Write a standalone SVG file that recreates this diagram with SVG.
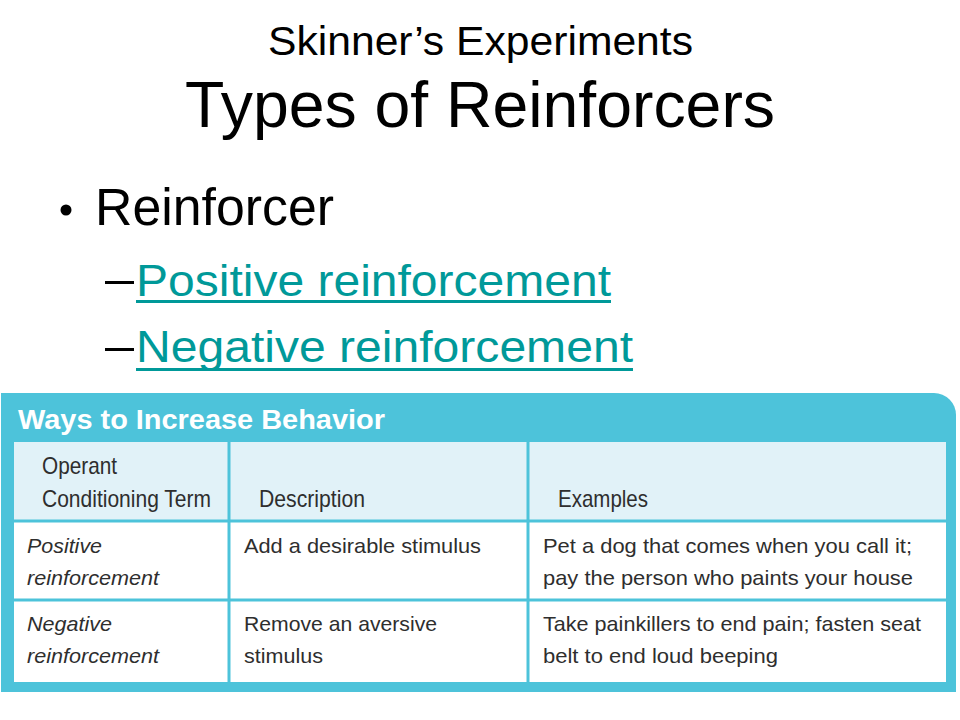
<svg xmlns="http://www.w3.org/2000/svg" width="960" height="720" viewBox="0 0 960 720">
<style>
.t{font-family:"Liberation Sans",Arial,sans-serif;fill:#000}
.lnk{font-family:"Liberation Sans",Arial,sans-serif;fill:#009999;font-size:45px}
.cell{font-family:"Liberation Sans",Arial,sans-serif;fill:#2e2e2e;font-size:21px}
.it{font-style:italic}
.hd{font-family:"Liberation Sans",Arial,sans-serif;fill:#2e2e2e;font-size:24px}
.grid{stroke:#4DC3DA;stroke-width:3;fill:none}
</style>
<rect width="960" height="720" fill="#ffffff"/>
<g id="title">
<text class="t" x="268" y="55" font-size="40" textLength="425" lengthAdjust="spacingAndGlyphs">Skinner’s Experiments</text>
<text class="t" x="185" y="127" font-size="65" textLength="590" lengthAdjust="spacingAndGlyphs">Types of Reinforcers</text>
</g>
<g id="bullets">
<circle cx="66" cy="210" r="5.5" fill="#000"/>
<text class="t" x="95" y="225" font-size="51" textLength="239" lengthAdjust="spacingAndGlyphs">Reinforcer</text>
<rect x="105" y="281" width="29" height="3" fill="#000"/>
<text class="lnk" x="136" y="296" textLength="475" lengthAdjust="spacingAndGlyphs">Positive reinforcement</text>
<rect x="136" y="300" width="475" height="3" fill="#009999"/>
<rect x="105" y="348" width="29" height="3" fill="#000"/>
<text class="lnk" x="136" y="362" textLength="497" lengthAdjust="spacingAndGlyphs">Negative reinforcement</text>
<rect x="136" y="368" width="497" height="3" fill="#009999"/>
</g>
<g id="table">
<path d="M1 393 H934 A22 22 0 0 1 956 415 V692 H1 Z" fill="#4DC3DA"/>
<text x="18" y="429" font-family="Liberation Sans,Arial,sans-serif" font-weight="bold" font-size="27" fill="#ffffff" textLength="367" lengthAdjust="spacingAndGlyphs">Ways to Increase Behavior</text>
<rect x="14" y="442" width="932" height="240" fill="#ffffff"/>
<rect x="14" y="442" width="932" height="79" fill="#E1F2F8"/>
<g id="connectors">
<line class="grid" x1="229" y1="442" x2="229" y2="682"/>
<line class="grid" x1="528" y1="442" x2="528" y2="682"/>
<line class="grid" x1="14" y1="521" x2="946" y2="521"/>
<line class="grid" x1="14" y1="600" x2="946" y2="600"/>
</g>
<g id="header">
<text class="hd" x="42" y="474" textLength="75" lengthAdjust="spacingAndGlyphs">Operant</text>
<text class="hd" x="42" y="507" textLength="169" lengthAdjust="spacingAndGlyphs">Conditioning Term</text>
<text class="hd" x="259" y="507" textLength="106" lengthAdjust="spacingAndGlyphs">Description</text>
<text class="hd" x="558" y="507" textLength="90" lengthAdjust="spacingAndGlyphs">Examples</text>
</g>
<g id="row1">
<text class="cell it" x="27" y="553" textLength="75" lengthAdjust="spacingAndGlyphs">Positive</text>
<text class="cell it" x="27" y="585" textLength="132" lengthAdjust="spacingAndGlyphs">reinforcement</text>
<text class="cell" x="244" y="553" textLength="237" lengthAdjust="spacingAndGlyphs">Add a desirable stimulus</text>
<text class="cell" x="543" y="553" textLength="369" lengthAdjust="spacingAndGlyphs">Pet a dog that comes when you call it;</text>
<text class="cell" x="543" y="585" textLength="370" lengthAdjust="spacingAndGlyphs">pay the person who paints your house</text>
</g>
<g id="row2">
<text class="cell it" x="27" y="631" textLength="85" lengthAdjust="spacingAndGlyphs">Negative</text>
<text class="cell it" x="27" y="663" textLength="132" lengthAdjust="spacingAndGlyphs">reinforcement</text>
<text class="cell" x="244" y="631" textLength="193" lengthAdjust="spacingAndGlyphs">Remove an aversive</text>
<text class="cell" x="244" y="663" textLength="79" lengthAdjust="spacingAndGlyphs">stimulus</text>
<text class="cell" x="543" y="631" textLength="378" lengthAdjust="spacingAndGlyphs">Take painkillers to end pain; fasten seat</text>
<text class="cell" x="543" y="663" textLength="235" lengthAdjust="spacingAndGlyphs">belt to end loud beeping</text>
</g>
</g>
</svg>
